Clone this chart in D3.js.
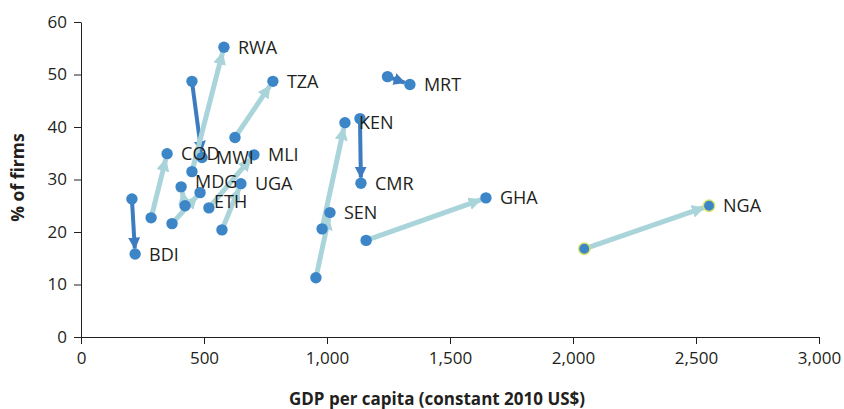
<!DOCTYPE html>
<html>
<head>
<meta charset="utf-8">
<script src="https://cdn.jsdelivr.net/npm/d3@7"></script>
<style>
  body { margin: 0; background: #fff; }
  svg text { font-family: "Open Sans", "DejaVu Sans", sans-serif; fill: #231f20; }
</style>
</head>
<body>
<div id="chart"></div>
<script>
// countries and their two survey observations (start -> end)
const countries = ["BDI", "COD", "MWI", "RWA", "MDG", "ETH", "UGA", "MLI", "TZA", "SEN", "KEN", "CMR", "MRT", "GHA", "NGA"]
const gdpStart   = [207, 285, 451, 451, 423, 370, 573, 520, 626, 955, 980, 1134, 1246, 1159, 2046]
const gdpEnd     = [220, 350, 492, 581, 407, 484, 650, 703, 780, 1012, 1073, 1138, 1337, 1646, 2553]
const firmsStart = [26.3, 22.7, 48.7, 31.5, 25.0, 21.6, 20.4, 24.6, 38.0, 11.3, 20.6, 41.6, 49.6, 18.4, 16.8]
const firmsEnd   = [15.8, 34.9, 34.2, 55.2, 28.6, 27.5, 29.2, 34.7, 48.7, 23.7, 40.8, 29.3, 48.1, 26.5, 25.0]

const xTicks = [0, 500, 1000, 1500, 2000, 2500, 3000]
const yTicks = [0, 10, 20, 30, 40, 50, 60]

// label nudges (layout only)
const labelNudge = { MDG: [0, -5], ETH: [0, 9] }

const margin = { top: 22, right: 25, bottom: 72, left: 81 }
const width = 844 - margin.left - margin.right
const height = 409 - margin.top - margin.bottom

const lightCol = "#a9d4da"
const darkCol = "#3e7cc2"
const dotCol = "#3c86c8"

const data = countries.map((c, i) => ({
    name: c,
    x0: gdpStart[i], y0: firmsStart[i],
    x1: gdpEnd[i], y1: firmsEnd[i],
    up: firmsEnd[i] > firmsStart[i]
}))

const svg = d3.select("#chart")
    .append("svg")
    .attr("width", 844)
    .attr("height", 409)

const defs = svg.append("defs")
function marker(id, col, size) {
    defs.append("marker")
        .attr("id", id)
        .attr("viewBox", "0 0 10 10")
        .attr("refX", 9)
        .attr("refY", 5)
        .attr("markerUnits", "userSpaceOnUse")
        .attr("markerWidth", size)
        .attr("markerHeight", size)
        .attr("orient", "auto")
        .append("path")
        .attr("d", "M0,0L10,5L0,10z")
        .attr("fill", col)
}
marker("arrLight", lightCol, 13)
marker("arrDark", darkCol, 12)

const g = svg.append("g")
    .attr("transform", `translate(${margin.left},${margin.top})`)

const x = d3.scaleLinear().domain([0, 3000]).range([0, width])
const y = d3.scaleLinear().domain([0, 60]).range([height, 0])

// axes
const xAxis = g.append("g")
    .attr("transform", `translate(0,${height})`)
    .call(d3.axisBottom(x).tickValues(xTicks).tickSize(7).tickSizeOuter(0).tickPadding(8)
        .tickFormat(d3.format(",")))
const yAxis = g.append("g")
    .call(d3.axisLeft(y).tickValues(yTicks).tickSize(7).tickSizeOuter(0).tickPadding(7))

;[xAxis, yAxis].forEach(a => {
    a.selectAll("path, line").attr("stroke", "#231f20").attr("stroke-width", 1)
    a.selectAll("text").style("font-size", "17px").attr("fill", "#231f20")
})

svg.append("text")
    .attr("x", 437)
    .attr("y", 405)
    .attr("text-anchor", "middle")
    .style("font-size", "17px")
    .style("font-weight", "bold")
    .text("GDP per capita (constant 2010 US$)")

svg.append("text")
    .attr("transform", `translate(24,${margin.top + height / 2 - 2}) rotate(-90)`)
    .attr("text-anchor", "middle")
    .style("font-size", "17.5px")
    .style("font-weight", "bold")
    .text("% of firms")

const r = 5.7

// arrows
g.selectAll(".arrow")
    .data(data)
    .join("line")
    .attr("class", "arrow")
    .each(function (d) {
        const sx = x(d.x0), sy = y(d.y0), ex = x(d.x1), ey = y(d.y1)
        const len = Math.hypot(ex - sx, ey - sy)
        const k = (len - r) / len
        d3.select(this)
            .attr("x1", sx).attr("y1", sy)
            .attr("x2", sx + (ex - sx) * k).attr("y2", sy + (ey - sy) * k)
    })
    .attr("stroke", d => d.up ? lightCol : darkCol)
    .attr("stroke-width", d => d.up ? 5 : 4)
    .attr("marker-end", d => d.up ? "url(#arrLight)" : "url(#arrDark)")

// dots
const pts = data.flatMap(d => [
    { name: d.name, gx: d.x0, fy: d.y0 },
    { name: d.name, gx: d.x1, fy: d.y1 }
])
g.selectAll(".dot")
    .data(pts)
    .join("circle")
    .attr("class", "dot")
    .attr("cx", d => x(d.gx))
    .attr("cy", d => y(d.fy))
    .attr("r", r)
    .attr("fill", dotCol)
    .attr("stroke", d => d.name === "NGA" ? "#d9e36a" : "none")
    .attr("stroke-width", 1.5)

// labels at end points
g.selectAll(".lab")
    .data(data)
    .join("text")
    .attr("class", "lab")
    .attr("x", d => x(d.x1) + 14 + (labelNudge[d.name] ? labelNudge[d.name][0] : 0))
    .attr("y", d => y(d.y1) + 6.5 + (labelNudge[d.name] ? labelNudge[d.name][1] : 0))
    .style("font-size", "18px")
    .text(d => d.name)
</script>
</body>
</html>
